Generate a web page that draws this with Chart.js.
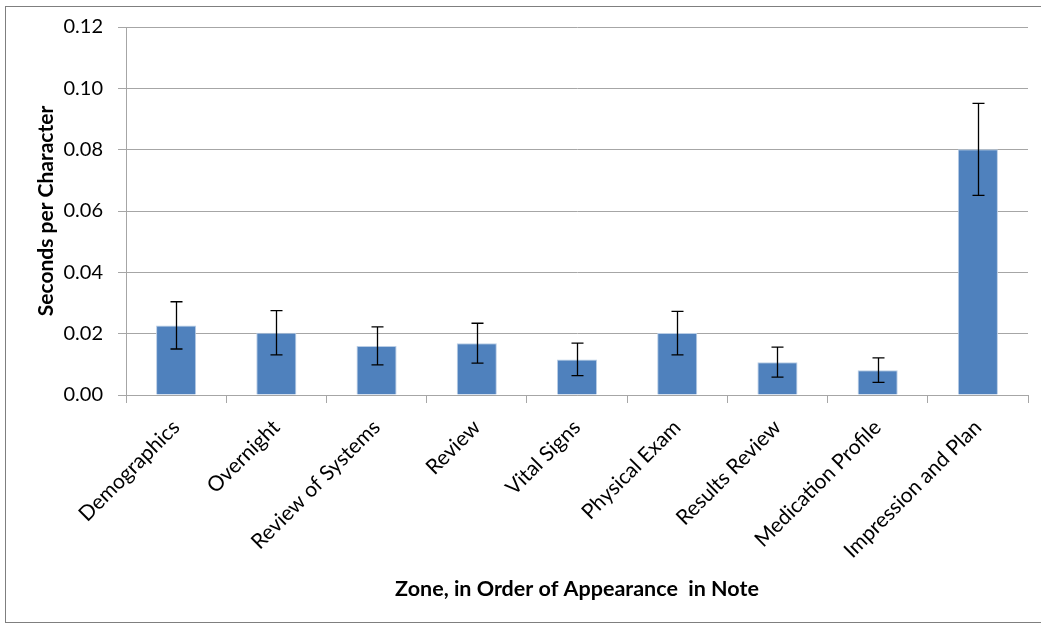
<!DOCTYPE html>
<html>
<head>
<meta charset="utf-8">
<script src="https://cdn.jsdelivr.net/npm/chart.js@4"></script>
<style>
  html, body { margin: 0; padding: 0; background: #fff; }
</style>
</head>
<body>
<canvas id="chart" width="1041" height="624"></canvas>
<script>
const zones = ["Demographics", "Overnight", "Review of Systems", "Review", "Vital Signs",
    "Physical Exam", "Results Review", "Medication Profile", "Impression and Plan"];
const secondsPerChar = [0.0227, 0.0203, 0.0160, 0.0169, 0.0116, 0.0202, 0.0107, 0.0081, 0.0801];
const errors = [0.0077, 0.0072, 0.0062, 0.0065, 0.0053, 0.0071, 0.0049, 0.0040, 0.0150];

const font = "Lato, 'Open Sans', sans-serif";

/* Frame around the whole figure (right edge falls off the picture) */
const framePlugin = {
    id: "frame",
    afterDraw(chart) {
        const ctx = chart.ctx;
        ctx.save();
        ctx.strokeStyle = "#7f7f7f";
        ctx.lineWidth = 1;
        ctx.strokeRect(5.5, 6.5, 1045, 616);
        ctx.restore();
    }
};

/* Error bars */
const errorBarPlugin = {
    id: "errorBars",
    afterDatasetsDraw(chart) {
        const ctx = chart.ctx;
        const meta = chart.getDatasetMeta(0);
        const y = chart.scales.y;
        ctx.save();
        ctx.strokeStyle = "#000";
        ctx.lineWidth = 1.3;
        meta.data.forEach((bar, i) => {
            const v = secondsPerChar[i];
            const top = y.getPixelForValue(v + errors[i]);
            const bot = y.getPixelForValue(v - errors[i]);
            const x = Math.round(bar.x) + 0.5;
            ctx.beginPath();
            ctx.moveTo(x, top); ctx.lineTo(x, bot);
            ctx.moveTo(x - 6, top); ctx.lineTo(x + 6, top);
            ctx.moveTo(x - 6, bot); ctx.lineTo(x + 6, bot);
            ctx.stroke();
        });
        ctx.restore();
    }
};

new Chart(document.getElementById("chart"), {
    type: "bar",
    data: {
        labels: zones,
        datasets: [{
            data: secondsPerChar,
            backgroundColor: "#4f81bd",
            borderColor: "#b9cde5",
            borderWidth: 1,
            barPercentage: 0.4,
            categoryPercentage: 1
        }]
    },
    options: {
        responsive: false,
        animation: false,
        devicePixelRatio: 1,
        layout: { padding: { left: 34, right: 13, top: 25, bottom: 22 } },
        plugins: { legend: { display: false }, tooltip: { enabled: false } },
        scales: {
            y: {
                min: 0, max: 0.12,
                ticks: {
                    stepSize: 0.02,
                    color: "#000",
                    font: { family: font, size: 20 },
                    padding: 15,
                    callback: v => v.toFixed(2)
                },
                grid: { color: "#a6a6a6", tickLength: 8 },
                border: { color: "#a6a6a6" },
                title: {
                    display: true,
                    text: "Seconds per Character",
                    color: "#000",
                    font: { family: font, size: 21, weight: "bold" },
                    padding: 0
                },
                afterFit: s => { s.width = 92; }
            },
            x: {
                ticks: {
                    color: "#000",
                    font: { family: font, size: 21 },
                    minRotation: 45, maxRotation: 45,
                    padding: 12
                },
                grid: { drawOnChartArea: false, color: "#a6a6a6", tickLength: 8, offset: true },
                border: { color: "#a6a6a6" },
                title: {
                    display: true,
                    text: "Zone, in Order of Appearance  in Note",
                    color: "#000",
                    font: { family: font, size: 21.5, weight: "bold" },
                    padding: 0
                },
                afterFit: s => { s.height = 207; }
            }
        }
    },
    plugins: [framePlugin, errorBarPlugin]
});
</script>
</body>
</html>
